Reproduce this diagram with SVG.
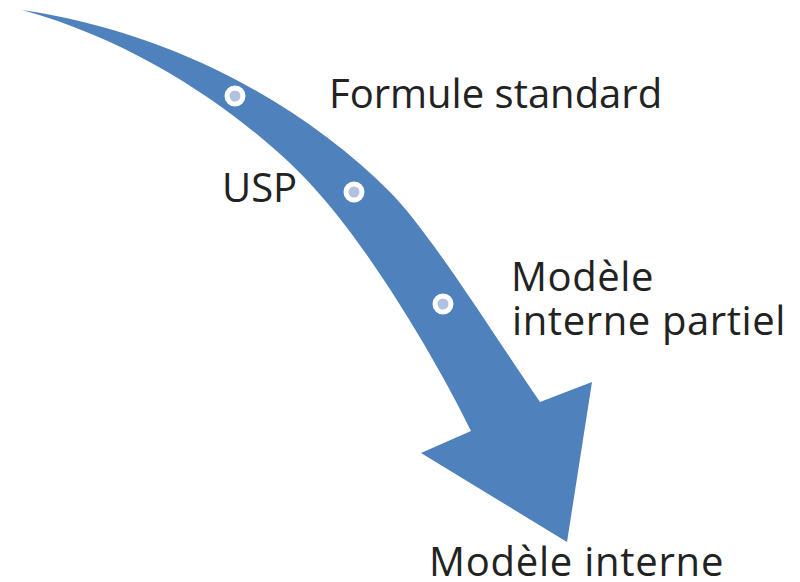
<svg xmlns="http://www.w3.org/2000/svg" width="800" height="582" viewBox="0 0 800 582">
  <style>
    .label { font-family: "Open Sans", "Noto Sans", "Liberation Sans", sans-serif; font-size: 40px; fill: #222222; }
    .wide { letter-spacing: 0.6px; }
    .arrow { fill: #4F81BD; }
    .stop { fill: #AFC3E0; stroke: #FFFFFF; stroke-width: 5; }
  </style>

  <!-- curved arrow, tapering from the tail at top left to a wide head -->
  <g id="connectors">
    <path class="arrow" d="M22,10
      C172,32 302,104 390,192
      C428,230 492,332 540,402
      L592,382 L567,542 L421,453 L471,431
      C445,377 370,243 300,173
      C250,123 150,45 22,10 Z"/>
  </g>

  <!-- stages along the arrow -->
  <g id="formule-standard">
    <circle class="stop" cx="235" cy="96" r="8"/>
    <text class="label" x="329" y="108">Formule standard</text>
  </g>
  <g id="usp">
    <circle class="stop" cx="354" cy="192" r="8"/>
    <text class="label" x="222" y="202">USP</text>
  </g>
  <g id="modele-interne-partiel">
    <circle class="stop" cx="443" cy="304" r="8"/>
    <text class="label wide" x="511" y="291">Modèle</text>
    <text class="label wide" x="512" y="335">interne partiel</text>
  </g>
  <g id="modele-interne">
    <text class="label" x="429" y="576" style="letter-spacing:0.75px">Modèle interne</text>
  </g>
</svg>
